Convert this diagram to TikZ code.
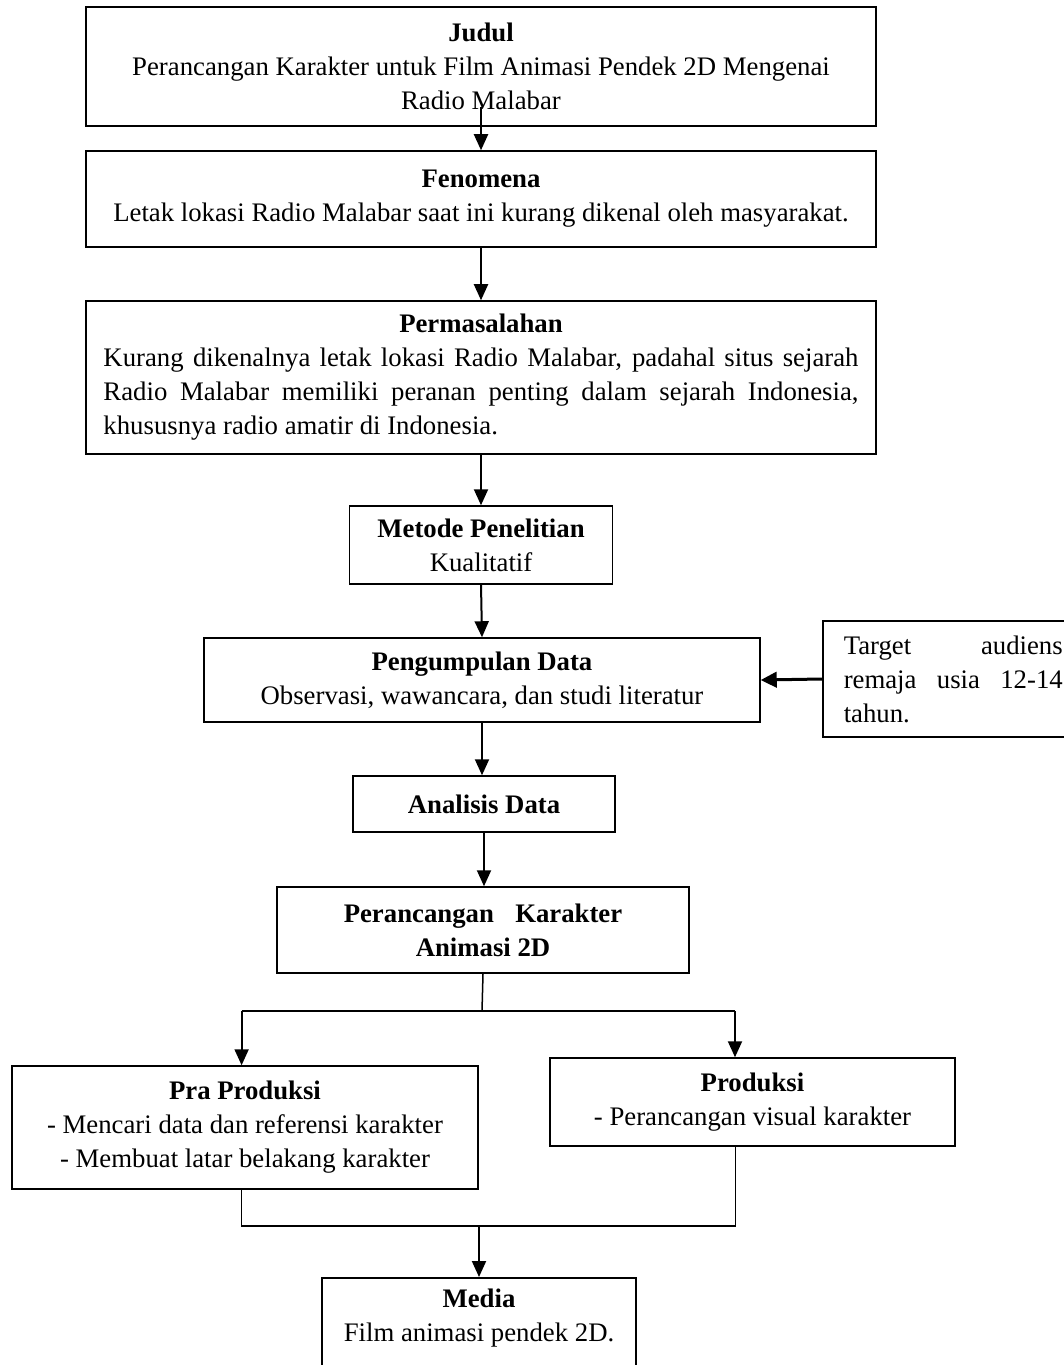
\documentclass[tikz,border=0pt]{standalone}
\usepackage{fontspec}
\setmainfont{Liberation Serif}
\usetikzlibrary{arrows.meta}
\hyphenpenalty=10000
\exhyphenpenalty=10000
\tolerance=9999

\begin{document}
\begin{tikzpicture}[x=0.4pt,y=-0.4pt,
  font=\fontsize{10.7}{13.6}\selectfont,
  box/.style={draw,line width=0.6pt,inner sep=0pt,align=center},
  arr/.style={line width=0.8pt,-{Triangle[length=6.4pt,width=5.6pt]}},
  bigarr/.style={line width=1.2pt,-{Triangle[length=6.4pt,width=6.2pt]}},
  link/.style={line width=0.6pt}]
\useasboundingbox (0,0) rectangle (1064,1365);
\node[box,minimum width=316pt,minimum height=47.6pt] (judul) at (481,66.5)
  {\textbf{Judul}\\Perancangan Karakter untuk Film Animasi Pendek 2D Mengenai\\Radio Malabar};
\node[box,minimum width=316pt,minimum height=38.4pt] (fenomena) at (481,199)
  {\textbf{Fenomena}\\Letak lokasi Radio Malabar saat ini kurang dikenal oleh masyarakat.};
\node[box,minimum width=316pt,minimum height=61.2pt,text width=302pt,align=justify] (masalah) at (481,377.5)
  {\makebox[\linewidth]{\bfseries Permasalahan}\\
   Kurang dikenalnya letak lokasi Radio Malabar, padahal situs sejarah\linebreak
   Radio Malabar memiliki peranan penting dalam sejarah Indonesia,\linebreak
   khususnya radio amatir di Indonesia.};
\node[box,minimum width=105.2pt,minimum height=31.2pt] (metode) at (481,545)
  {\textbf{Metode Penelitian}\\Kualitatif};
\node[box,minimum width=222.4pt,minimum height=33.6pt] (kumpul) at (482,680)
  {\textbf{Pengumpulan Data}\\Observasi, wawancara, dan studi literatur};
\node[box,anchor=west,inner xsep=8.4pt,text width=87.6pt,align=justify,minimum height=46.4pt] (target) at (822,679)
  {Target audiens\linebreak remaja usia 12-14\linebreak tahun.};
\node[box,minimum width=104.8pt,minimum height=22.4pt] (analisis) at (484,804)
  {\textbf{Analisis Data}};
\node[box,minimum width=164.8pt,minimum height=34.4pt] (rancang) at (483,930)
  {\textbf{Perancangan\hspace{0.8em}Karakter}\\\textbf{Animasi 2D}};
\node[box,minimum width=186.4pt,minimum height=49.2pt] (pra) at (245,1127.5)
  {\textbf{Pra Produksi}\\- Mencari data dan referensi karakter\\- Membuat latar belakang karakter};
\node[box,minimum width=162pt,minimum height=35.2pt] (produksi) at (752.5,1102)
  {\textbf{Produksi}\\- Perancangan visual karakter};
\node[box,anchor=north,minimum width=125.6pt,inner ysep=4.5pt] (media) at (479,1277)
  {\textbf{Media}\\Film animasi pendek 2D.\rule[-22pt]{0pt}{0pt}};

\coordinate (split) at (482,1011);
\coordinate (splitL) at (241.6,1011);
\coordinate (splitR) at (735,1011);
\coordinate (joinL) at (241.6,1226);
\coordinate (joinR) at (735.6,1226);
\coordinate (join) at (479,1226);

\draw[arr] (judul.south) ++(0,-20) -- (fenomena.north);
\draw[arr] (fenomena.south) -- (masalah.north);
\draw[arr] (masalah.south) -- (metode.north);
\draw[arr] (metode.south) -- (kumpul.north);
\draw[bigarr] (target.west) -- (kumpul.east);
\draw[arr] (kumpul.south) -- (kumpul.south |- analisis.north);
\draw[arr] (analisis.south) -- (analisis.south |- rancang.north);
\draw[link] (rancang.south) -- (split);
\draw[link] (splitL) -- (splitR);
\draw[arr] (splitL) -- (splitL |- pra.north);
\draw[arr] (splitR) -- (splitR |- produksi.north);
\draw[link] (joinL |- pra.south) -- (joinL) -- (joinR) -- (joinR |- produksi.south);
\draw[arr] (join) -- (join |- media.north);
\end{tikzpicture}
\end{document}
